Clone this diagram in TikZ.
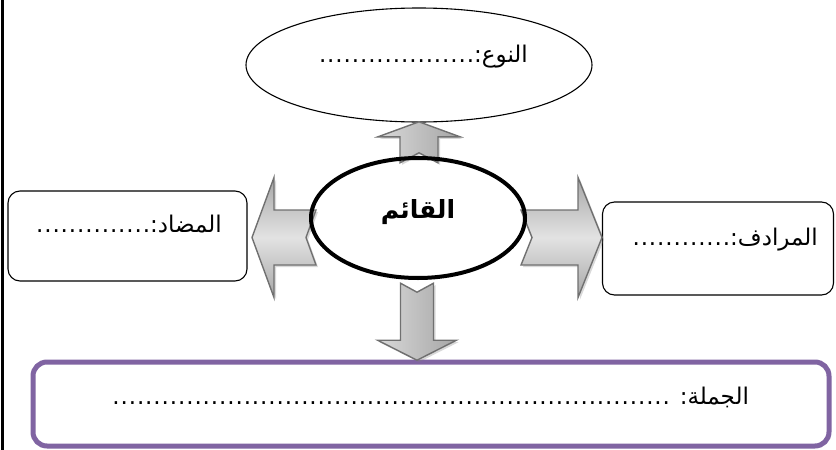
\documentclass[tikz,border=0pt]{standalone}
\usepackage{fontspec}
\usetikzlibrary{shapes.geometric,shadows,calc}
\setmainfont{DejaVu Sans}
\newfontfamily\arabicfont[Script=Arabic]{DejaVu Sans}
\TeXXeTstate=1
\definecolor{purp}{RGB}{128,100,162}
\definecolor{arrline}{RGB}{112,112,112}
\newcount\dcnt
\newcommand\dts[1]{\dcnt=#1\relax\loop.\kern0.9pt\advance\dcnt by -1 \ifnum\dcnt>0 \repeat}
% tail point, angle, length, shaft half width, head half width, head length, notch depth
\newcommand\barrow[8]{\begin{scope}[shift={#1},rotate=#2]
  \path[blkarrow,#8] (0,#4) -- (#3-#6,#4) -- (#3-#6,#5) -- (#3,0) -- (#3-#6,-#5) -- (#3-#6,-#4) -- (0,-#4) -- (#7,0) -- cycle;
\end{scope}}
\begin{document}
\begin{tikzpicture}[x=1pt,y=-1pt,
  lbl/.style={font=\arabicfont\fontsize{23}{26}\selectfont, inner sep=0pt},
  boxsty/.style={draw=black, line width=1.1pt, rounded corners=12pt, inner sep=0pt},
  blkarrow/.style={draw=arrline, line width=1.4pt, line join=miter,
    drop shadow={shadow xshift=2pt, shadow yshift=-2pt, opacity=0.3}},
  hshade/.style={top color=gray!70, bottom color=gray!70, middle color=gray!22},
  vshade/.style={left color=gray!30, right color=gray!70}]
\useasboundingbox (0,0) rectangle (836,450);
% left border
\draw[line width=3pt] (2.5,0) -- (2.5,450);
% outer nodes
\node[ellipse, draw, line width=1.1pt, minimum width=346pt, minimum height=114pt, inner sep=0pt] (nou) at (419,65) {};
\node[boxsty, minimum width=239pt, minimum height=90pt] (mud) at (127.5,236) {};
\node[boxsty, minimum width=231pt, minimum height=93pt] (mur) at (718,248.5) {};
\node[draw=purp, line width=5pt, rounded corners=14pt, minimum width=796pt, minimum height=84pt, inner sep=0pt] (jum) at (431,404) {};
% centre node
\node[ellipse, fill=white, minimum width=214pt, minimum height=120pt, inner sep=0pt] (c) at (418,218) {};
% block arrows
\barrow{($(c.north)+(1,5)$)}{90}{41}{19}{41}{15}{10}{vshade}
\barrow{($(c.center)+(-102,19.5)$)}{180}{64}{27.5}{60}{22}{10}{hshade}
\barrow{($(c.center)+(103,19.5)$)}{0}{81}{27.5}{60}{24}{11}{hshade}
\barrow{($(c.south)+(-1,5)$)}{270}{77}{16.5}{39.5}{20}{9}{vshade}
\draw[line width=4pt] (c.center) ellipse [x radius=107pt, y radius=60pt];
% texts
\node[font=\arabicfont\bfseries\fontsize{25}{28}\selectfont, inner sep=0pt] (tc) at (418,212) {\beginR القائم\endR};
\node[lbl, anchor=base east] (tnou) at (528,62) {\beginR النوع:\dts{19}\endR};
\node[lbl, anchor=base east] (tmud) at (222,232) {\beginR المضاد:\dts{14}\endR};
\node[lbl, anchor=base east] (tmur) at (818,245) {\beginR المرادف:\dts{12}\endR};
\node[lbl, anchor=base east] (tjum) at (749,404) {\beginR الجملة: \dts{68}\endR};
\end{tikzpicture}
\end{document}
